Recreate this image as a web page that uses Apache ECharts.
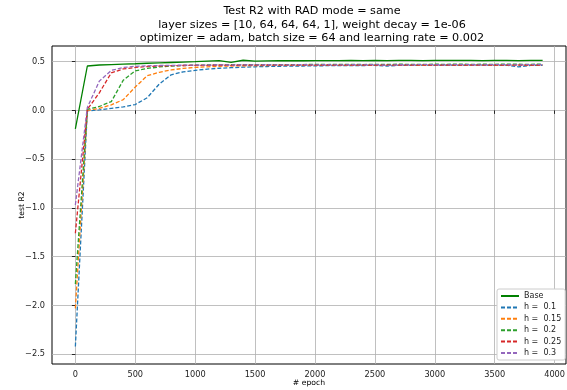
<!DOCTYPE html>
<html><head><meta charset="utf-8">
<script src="https://cdn.jsdelivr.net/npm/echarts@6/dist/echarts.min.js"></script>
<style>html,body{margin:0;padding:0;background:#fff}#c{width:567px;height:390px}</style>
</head><body><div id="c"></div>
<script>
const epochs = [0,100,200,300,400,500,600,700,800,900,1000,1100,1200,1300,1400,1500,1600,1700,1800,1900,
  2000,2100,2200,2300,2400,2500,2600,2700,2800,2900,3000,3100,3200,3300,3400,3500,3600,3700,3800,3900];
const xTicks = [0,500,1000,1500,2000,2500,3000,3500,4000];
const yTicks = [-2.5,-2.0,-1.5,-1.0,-0.5,0.0,0.5];
const seriesNames = ['Base','h =  0.1','h =  0.15','h =  0.2','h =  0.25','h =  0.3'];
const base = [-0.19,0.455,0.465,0.47,0.474,0.478,0.483,0.487,0.491,0.495,0.499,0.505,0.511,0.492,0.514,0.505,0.507,0.509,0.51,0.509,
  0.511,0.51,0.511,0.512,0.511,0.512,0.511,0.512,0.512,0.511,0.512,0.513,0.512,0.512,0.511,0.512,0.512,0.511,0.512,0.512];
const h010 = [-2.42,-0.005,0.005,0.02,0.035,0.06,0.13,0.27,0.365,0.395,0.41,0.423,0.432,0.438,0.443,0.447,0.45,0.452,0.454,0.455,
  0.457,0.458,0.459,0.46,0.46,0.461,0.455,0.462,0.461,0.462,0.462,0.463,0.462,0.463,0.463,0.462,0.463,0.447,0.462,0.463];
const h015 = [-2.03,0.0,0.02,0.057,0.11,0.24,0.355,0.39,0.415,0.43,0.44,0.447,0.452,0.455,0.457,0.459,0.46,0.462,0.461,0.463,
  0.462,0.464,0.463,0.462,0.464,0.463,0.465,0.463,0.464,0.462,0.464,0.463,0.465,0.463,0.464,0.462,0.464,0.463,0.464,0.463];
const h020 = [-1.78,0.01,0.04,0.09,0.31,0.405,0.43,0.445,0.455,0.46,0.463,0.465,0.466,0.468,0.467,0.469,0.468,0.47,0.469,0.47,
  0.471,0.47,0.472,0.471,0.47,0.472,0.471,0.473,0.472,0.471,0.473,0.472,0.474,0.472,0.473,0.472,0.474,0.473,0.472,0.474];
const h025 = [-1.26,0.01,0.18,0.385,0.425,0.44,0.45,0.455,0.458,0.46,0.461,0.462,0.463,0.462,0.464,0.463,0.465,0.463,0.464,0.465,
  0.463,0.465,0.464,0.463,0.465,0.464,0.463,0.465,0.464,0.466,0.464,0.465,0.463,0.465,0.464,0.465,0.463,0.465,0.464,0.465];
const h030 = [-0.97,0.03,0.3,0.41,0.44,0.452,0.457,0.46,0.462,0.463,0.465,0.464,0.466,0.465,0.467,0.466,0.468,0.466,0.467,0.468,
  0.467,0.468,0.466,0.468,0.467,0.469,0.462,0.468,0.467,0.469,0.468,0.467,0.469,0.468,0.467,0.469,0.468,0.467,0.469,0.468];
const colors = ['#008000','#1f77b4','#ff7f0e','#2ca02c','#d62728','#9467bd'];
const allData = [base,h010,h015,h020,h025,h030];

const FONT = 'DejaVu Sans';
const chart = echarts.init(document.getElementById('c'), null, {renderer:'canvas'});
const fmtY = v => (Math.abs(v) < 1e-9 ? '0.0' : v.toFixed(1)).replace('-', '\u2212');
const fmtX = v => String(Math.round(v));

chart.setOption({
  animation: false,
  backgroundColor: '#fff',
  title: {
    text: 'Test R2 with RAD mode = same\nlayer sizes = [10, 64, 64, 64, 1], weight decay = 1e-06\noptimizer = adam, batch size = 64 and learning rate = 0.002',
    left: 307, top: -0.5, textAlign: 'center',
    textStyle: {fontFamily: FONT, fontSize: 11.2, fontWeight: 'normal', color: '#000', lineHeight: 13.5}
  },
  grid: {left: 52, right: 1, top: 46, bottom: 26, show: true, borderColor: '#000', borderWidth: 1,
    backgroundColor: 'transparent', containLabel: false, outerBoundsMode: 'none'},
  legend: {
    orient: 'vertical', left: 497, top: 289,
    data: seriesNames,
    itemWidth: 18, itemHeight: 8, itemGap: 3.4,
    padding: [3, 4, 3, 3],
    backgroundColor: '#fff', borderColor: '#cccccc', borderWidth: 1, borderRadius: 2,
    textStyle: {fontFamily: FONT, fontSize: 8, color: '#222', padding: [0,0,0,0]},
    itemStyle: {opacity: 0}
  },
  xAxis: {
    type: 'value', min: -195, max: 4095,
    name: '# epoch', nameLocation: 'middle', nameGap: 15, nameMoveOverlap: false,
    nameTextStyle: {fontFamily: FONT, fontSize: 7.7, color: '#000'},
    axisLine: {show: false},
    axisTick: {show: true, inside: false, length: 3.5, customValues: xTicks, lineStyle: {color: '#000', width: 0.8}},
    axisLabel: {customValues: xTicks, formatter: fmtX, fontFamily: FONT, fontSize: 8.2, color: '#222', margin: 7},
    splitLine: {show: true, lineStyle: {color: '#b0b0b0', width: 0.8}}
  },
  yAxis: {
    type: 'value', min: -2.6, max: 0.66,
    name: 'test R2', nameLocation: 'middle', nameGap: 25.5, nameMoveOverlap: false,
    nameTextStyle: {fontFamily: FONT, fontSize: 7.7, color: '#000'},
    axisLine: {show: false},
    axisTick: {show: true, inside: false, length: 3.5, customValues: yTicks, lineStyle: {color: '#000', width: 0.8}},
    axisLabel: {customValues: yTicks, formatter: fmtY, fontFamily: FONT, fontSize: 8.2, color: '#222', margin: 7},
    splitLine: {show: true, lineStyle: {color: '#b0b0b0', width: 0.8}}
  },
  series: allData.map((d, i) => ({
    name: seriesNames[i],
    type: 'line',
    data: epochs.map((e, j) => [e, d[j]]),
    symbol: 'none',
    color: colors[i],
    lineStyle: {color: colors[i], width: 1.3, type: i === 0 ? 'solid' : [4, 2]},
    z: 2 + i
  }))
});
</script></body></html>
